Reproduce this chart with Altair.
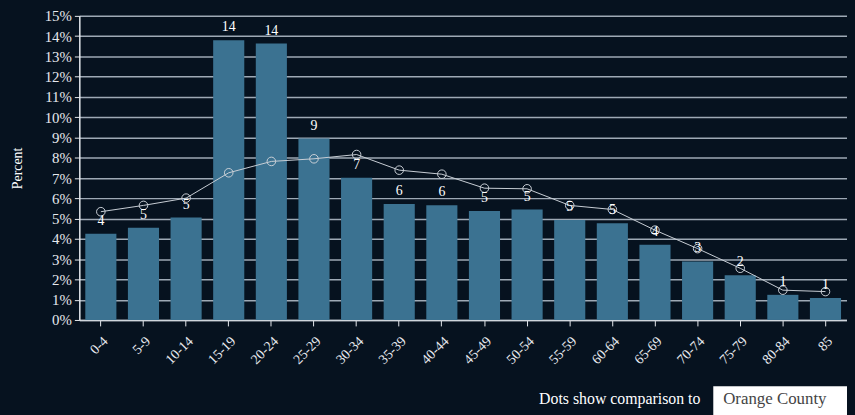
import altair as alt
import pandas as pd

age_groups = ["0-4", "5-9", "10-14", "15-19", "20-24", "25-29", "30-34", "35-39",
              "40-44", "45-49", "50-54", "55-59", "60-64", "65-69", "70-74", "75-79",
              "80-84", "85"]
local_pct = [4.25, 4.55, 5.05, 13.8, 13.64, 8.95, 7.01, 5.72, 5.66, 5.37, 5.45,
             4.93, 4.77, 3.71, 2.89, 2.21, 1.24, 1.08]
county_pct = [5.34, 5.65, 6.01, 7.26, 7.82, 7.95, 8.16, 7.39, 7.19, 6.50, 6.47,
              5.65, 5.45, 4.43, 3.52, 2.55, 1.47, 1.40]
y_ticks = list(range(0, 16))
compare_label = "Dots show comparison to"
compare_choice = "Orange County"

df = pd.DataFrame({"age": age_groups, "pct": local_pct, "county": county_pct})

FONT = "Liberation Serif"
BG = "#06121f"
TOP = 6
H = 307

x_axis = alt.Axis(labelAngle=-45, labelFontSize=14, labelColor="#e6e9ee",
                  labelFont=FONT, tickColor="#e6e9ee", tickSize=6,
                  domainColor="#cfd5dc", domainWidth=1.5, labelPadding=8)
x_scale = alt.Scale(paddingInner=0.27, paddingOuter=0.14)

y_axis = alt.Axis(values=y_ticks, labelExpr="datum.value + '%'", labelOverlap=False,
                  labelFontSize=15, labelColor="#e6e9ee", labelFont=FONT,
                  tickColor="#e6e9ee", tickSize=5, labelPadding=3,
                  domainColor="#e6e9ee", domainWidth=1.5,
                  gridColor="#9ea9b5", gridWidth=1.5, grid=True,
                  titleFont=FONT, titleFontSize=14, titleColor="#ffffff",
                  titleFontWeight="normal", titleX=-62, titleY=H / 2,
                  titleAngle=-90, titleAlign="center", titleBaseline="middle")
y_scale = alt.Scale(domain=[0, 15], nice=False)


def X():
    return alt.X("age:N", sort=age_groups, title=None, scale=x_scale, axis=x_axis)


def Y(field):
    return alt.Y(field, title="Percent", scale=y_scale, axis=y_axis)


base = alt.Chart(df)

bars = base.mark_bar(color="#3b7291").encode(x=X(), y=Y("pct:Q"))

bar_labels = base.mark_text(dy=-13, font=FONT, fontSize=14, color="#ffffff",
                            baseline="middle").encode(
    x=X(), y=Y("pct:Q"), text=alt.Text("pct:Q", format=".0f"))

line = base.mark_line(color="#c8ced6", strokeWidth=1).encode(x=X(), y=Y("county:Q"))

dots = base.mark_point(shape="circle", size=75, filled=False, color="#c8ced6",
                       strokeWidth=1, opacity=1).encode(x=X(), y=Y("county:Q"))

ann = pd.DataFrame({"a": [compare_label], "b": [compare_choice]})
ann_text = alt.Chart(ann).mark_text(font=FONT, fontSize=16, color="#ffffff",
                                    align="right", baseline="alphabetic").encode(
    x=alt.value(627), y=alt.value(392), text="a:N")
ann_box = alt.Chart(ann).mark_rect(color="#ffffff").encode(
    x=alt.value(640), x2=alt.value(790), y=alt.value(374), y2=alt.value(410))
ann_choice = alt.Chart(ann).mark_text(font=FONT, fontSize=17, color="#444444",
                                      align="left", baseline="alphabetic").encode(
    x=alt.value(650), y=alt.value(392), text="b:N")

chart = alt.layer(bars, line, dots, bar_labels, ann_text, ann_box, ann_choice).properties(
    width=775, height=H, background=BG,
    autosize=alt.AutoSizeParams(type="none"),
    padding={"left": 72, "top": TOP, "right": 0, "bottom": 94},
).configure(font=FONT).configure_view(stroke=None)

chart.save("out.html", embed_options={"renderer": "svg", "actions": False,
                                      "defaultStyle": "body { background: #06121f; }"})
